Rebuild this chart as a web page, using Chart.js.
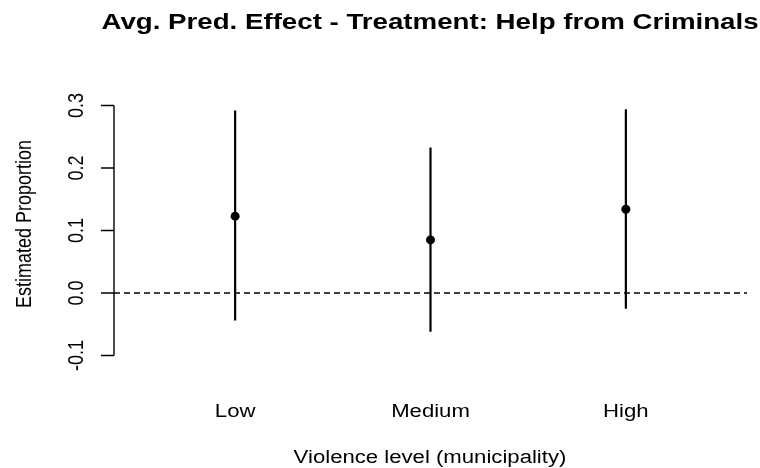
<!DOCTYPE html>
<html>
<head>
    <title>Avg. Pred. Effect - Treatment: Help from Criminals</title>
    <script src="https://cdn.jsdelivr.net/npm/chart.js"></script>
    <style>
        body {
            margin: 0;
            background: #ffffff;
        }
        canvas {
            display: block;
        }
    </style>
</head>
<body>
<canvas id="effectChart" width="760" height="468"></canvas>

<script>
    const categories = ['Low', 'Medium', 'High'];
    const estimates = [0.123, 0.085, 0.134];
    const lowerCI = [-0.044, -0.062, -0.025];
    const upperCI = [0.292, 0.233, 0.294];
    const yTicks = [-0.1, 0.0, 0.1, 0.2, 0.3];
    const yTickLabels = ['-0.1', '0.0', '0.1', '0.2', '0.3'];

    const FONT = '"Liberation Sans", Arial, sans-serif';
    const SX = 1.23; // the original picture is a bit wider than tall

    function stretchText(ctx, text, x, y, rot) {
        ctx.save();
        ctx.translate(x, y);
        ctx.scale(SX, 1);
        ctx.rotate(rot || 0);
        ctx.fillText(text, 0, 0);
        ctx.restore();
    }

    // R style axis, labels and titles
    const baseAxisPlugin = {
        id: 'baseAxis',
        afterDraw(chart) {
            const ctx = chart.ctx;
            const xs = chart.scales.x;
            const ys = chart.scales.y;
            const left = chart.chartArea.left;

            ctx.save();
            ctx.strokeStyle = '#000';
            ctx.lineWidth = 1.4;
            ctx.beginPath();
            ctx.moveTo(left, ys.getPixelForValue(yTicks[0]));
            ctx.lineTo(left, ys.getPixelForValue(yTicks[yTicks.length - 1]));
            yTicks.forEach(v => {
                const py = ys.getPixelForValue(v);
                ctx.moveTo(left - 13, py);
                ctx.lineTo(left, py);
            });
            ctx.stroke();

            ctx.fillStyle = '#000';
            ctx.textAlign = 'center';
            ctx.textBaseline = 'alphabetic';

            ctx.font = '18px ' + FONT;
            yTicks.forEach((v, i) => {
                stretchText(ctx, yTickLabels[i], 83, ys.getPixelForValue(v), -Math.PI / 2);
            });
            stretchText(ctx, 'Estimated Proportion', 31, 224, -Math.PI / 2);

            categories.forEach((c, i) => {
                stretchText(ctx, c, xs.getPixelForValue(i + 1), 417);
            });
            stretchText(ctx, 'Violence level (municipality)', 430, 463);

            ctx.font = 'bold 22.5px ' + FONT;
            stretchText(ctx, 'Avg. Pred. Effect - Treatment: Help from Criminals', 430, 29);
            ctx.restore();
        }
    };

    const xMin = 0.38;
    const xMax = 3.62;

    const datasets = [];

    // zero reference line
    datasets.push({
        type: 'line',
        data: [{x: xMin, y: 0}, {x: xMax, y: 0}],
        borderColor: '#000',
        borderWidth: 1.4,
        borderDash: [6, 4],
        pointRadius: 0
    });

    // confidence intervals
    categories.forEach((c, i) => {
        datasets.push({
            type: 'line',
            data: [{x: i + 1, y: lowerCI[i]}, {x: i + 1, y: upperCI[i]}],
            borderColor: '#000',
            borderWidth: 2.2,
            pointRadius: 0
        });
    });

    // point estimates
    datasets.push({
        type: 'scatter',
        data: estimates.map((v, i) => ({x: i + 1, y: v})),
        backgroundColor: '#000',
        borderColor: '#000',
        pointRadius: 4.5,
        borderWidth: 0
    });

    new Chart(document.getElementById('effectChart').getContext('2d'), {
        type: 'scatter',
        data: {datasets: datasets},
        options: {
            responsive: false,
            animation: false,
            events: [],
            layout: {
                padding: {left: 114, right: 13, top: 95.5, bottom: 102.5}
            },
            plugins: {
                legend: {display: false},
                tooltip: {enabled: false},
                title: {display: false}
            },
            scales: {
                x: {type: 'linear', min: xMin, max: xMax, display: false},
                y: {type: 'linear', min: -0.116, max: 0.316, display: false}
            }
        },
        plugins: [baseAxisPlugin]
    });
</script>
</body>
</html>
